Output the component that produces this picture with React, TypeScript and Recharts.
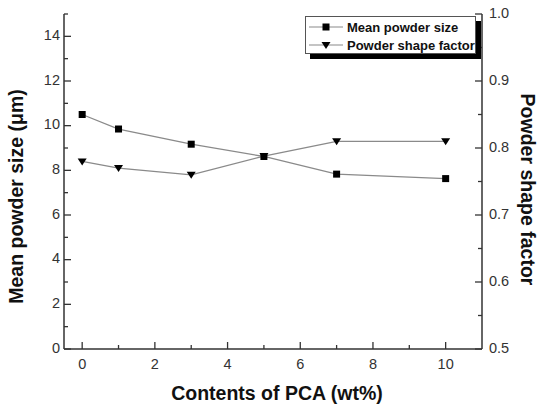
import React from 'react';
import { Line, LineChart, XAxis, YAxis, Label } from 'recharts';

// PCA content (wt%) and measured values
const PCA = [0, 1, 3, 5, 7, 10];
const MEAN_SIZE = [10.5, 9.85, 9.17, 8.62, 7.83, 7.63];
const SHAPE_FACTOR = [0.78, 0.77, 0.76, 0.788, 0.81, 0.81];

const X_TICKS = [0, 1, 2, 3, 4, 5, 6, 7, 8, 9, 10];
const LEFT_TICKS = [0, 1, 2, 3, 4, 5, 6, 7, 8, 9, 10, 11, 12, 13, 14, 15];
const RIGHT_TICKS = [0.5, 0.55, 0.6, 0.65, 0.7, 0.75, 0.8, 0.85, 0.9, 0.95, 1.0];

const data = PCA.map((x, i) => ({ pca: x, size: MEAN_SIZE[i], shape: SHAPE_FACTOR[i] }));

const FONT = '"Liberation Sans", Arial, sans-serif';
const AXIS = '#333';
const LINE = '#8a8a8a';
const MARGIN = 12;
const TICK_FS = 14.5;
const TITLE_FS = 19.5;

function XTick({ x, y, payload }: any) {
  const v = payload.value;
  const major = v % 2 === 0;
  const axisY = y - MARGIN;
  return (
    <g>
      <line x1={x} x2={x} y1={axisY} y2={axisY - (major ? 7 : 4)} stroke={AXIS} strokeWidth={1.3} />
      {major && (
        <text x={x} y={axisY + 16} textAnchor="middle" dominantBaseline="middle" fontSize={TICK_FS} fill={AXIS} fontFamily={FONT}>
          {v}
        </text>
      )}
    </g>
  );
}

function LeftTick({ x, y, payload }: any) {
  const v = payload.value;
  const major = v % 2 === 0;
  const axisX = x + MARGIN;
  return (
    <g>
      <line x1={axisX} x2={axisX + (major ? 7 : 4)} y1={y} y2={y} stroke={AXIS} strokeWidth={1.3} />
      {major && (
        <text x={axisX - 4} y={y} textAnchor="end" dominantBaseline="middle" fontSize={TICK_FS} fill={AXIS} fontFamily={FONT}>
          {v}
        </text>
      )}
    </g>
  );
}

function RightTick({ x, y, payload }: any) {
  const v = payload.value;
  const major = Math.round(v * 100) % 10 === 0;
  const axisX = x - MARGIN;
  return (
    <g>
      <line x1={axisX} x2={axisX - (major ? 7 : 4)} y1={y} y2={y} stroke={AXIS} strokeWidth={1.3} />
      {major && (
        <text x={axisX + 7} y={y} textAnchor="start" dominantBaseline="middle" fontSize={TICK_FS} fill={AXIS} fontFamily={FONT}>
          {v.toFixed(1)}
        </text>
      )}
    </g>
  );
}

function SquareDot({ cx, cy }: any) {
  if (cx == null || cy == null) return null;
  return <rect x={cx - 3.5} y={cy - 3.5} width={7} height={7} fill="#000" />;
}

function TriangleDot({ cx, cy }: any) {
  if (cx == null || cy == null) return null;
  return <path d={`M${cx - 4.5},${cy - 3} L${cx + 4.5},${cy - 3} L${cx},${cy + 4} Z`} fill="#000" />;
}

function ChartLegend() {
  const row = (marker: React.ReactNode, text: string) => (
    <div style={{ display: 'flex', alignItems: 'center', height: 18 }}>
      <svg width={38} height={10} style={{ marginRight: 2 }}>
        <line x1={2} x2={36} y1={5} y2={5} stroke={LINE} strokeWidth={1.2} />
        {marker}
      </svg>
      <span style={{ fontSize: 13, fontWeight: 'bold', color: '#111', whiteSpace: 'nowrap' }}>{text}</span>
    </div>
  );
  return (
    <div
      style={{
        position: 'absolute',
        left: 305,
        top: 16,
        width: 171,
        height: 38,
        border: '1px solid #555',
        background: '#fff',
        boxShadow: '5px 5px 0 #000',
        fontFamily: FONT,
        padding: '1px 0 0 1px',
        boxSizing: 'border-box',
      }}
    >
      {row(<rect x={15.5} y={1.5} width={7} height={7} fill="#000" />, 'Mean powder size')}
      {row(<path d="M14.5,2 L23.5,2 L19,9 Z" fill="#000" />, 'Powder shape factor')}
    </div>
  );
}

export default function App() {
  return (
    <div style={{ position: 'absolute', left: 0, top: 0, width: 539, height: 410, background: '#fff' }}>
      <LineChart width={539} height={410} data={data} margin={{ top: 14, right: 0, bottom: 0, left: 0 }}>
        <XAxis
          dataKey="pca"
          type="number"
          domain={[-0.5, 11]}
          ticks={X_TICKS}
          interval={0}
          height={61}
          tickSize={0}
          tickMargin={MARGIN}
          tickLine={false}
          tick={<XTick />}
          stroke={AXIS}
          strokeWidth={1.5}
        >
          <Label
            content={({ viewBox }: any) => (
              <text
                x={viewBox.x + viewBox.width / 2 + 4}
                y={viewBox.y + 46}
                textAnchor="middle"
                dominantBaseline="middle"
                fontSize={TITLE_FS}
                fontWeight="bold"
                fill="#111"
                fontFamily={FONT}
              >
                Contents of PCA (wt%)
              </text>
            )}
          />
        </XAxis>
        <XAxis xAxisId="top" orientation="top" dataKey="pca" type="number" domain={[-0.5, 11]} height={0} tick={false} tickLine={false} stroke={AXIS} strokeWidth={1.5} />
        <YAxis
          yAxisId="left"
          domain={[0, 15]}
          ticks={LEFT_TICKS}
          interval={0}
          width={64}
          tickSize={0}
          tickMargin={MARGIN}
          tickLine={false}
          tick={<LeftTick />}
          stroke={AXIS}
          strokeWidth={1.5}
        >
          <Label
            content={({ viewBox }: any) => {
              const cx = viewBox.x + 18;
              const cy = viewBox.y + viewBox.height / 2 + 15;
              return (
                <text
                  x={cx}
                  y={cy}
                  transform={`rotate(-90, ${cx}, ${cy})`}
                  textAnchor="middle"
                  dominantBaseline="middle"
                  fontSize={TITLE_FS}
                  fontWeight="bold"
                  fill="#111"
                  fontFamily={FONT}
                >
                  Mean powder size (μm)
                </text>
              );
            }}
          />
        </YAxis>
        <YAxis
          yAxisId="right"
          orientation="right"
          domain={[0.5, 1.0]}
          ticks={RIGHT_TICKS}
          interval={0}
          width={57}
          tickSize={0}
          tickMargin={MARGIN}
          tickLine={false}
          tick={<RightTick />}
          stroke={AXIS}
          strokeWidth={1.5}
        >
          <Label
            content={({ viewBox }: any) => {
              const cx = viewBox.x + 44;
              const cy = viewBox.y + viewBox.height / 2 + 8;
              return (
                <text
                  x={cx}
                  y={cy}
                  transform={`rotate(90, ${cx}, ${cy})`}
                  textAnchor="middle"
                  dominantBaseline="middle"
                  fontSize={TITLE_FS}
                  fontWeight="bold"
                  fill="#111"
                  fontFamily={FONT}
                >
                  Powder shape factor
                </text>
              );
            }}
          />
        </YAxis>
        <Line
          yAxisId="left"
          dataKey="size"
          stroke={LINE}
          strokeWidth={1.3}
          dot={<SquareDot />}
          activeDot={false}
          isAnimationActive={false}
        />
        <Line
          yAxisId="right"
          dataKey="shape"
          stroke={LINE}
          strokeWidth={1.3}
          dot={<TriangleDot />}
          activeDot={false}
          isAnimationActive={false}
        />
      </LineChart>
      <ChartLegend />
    </div>
  );
}
